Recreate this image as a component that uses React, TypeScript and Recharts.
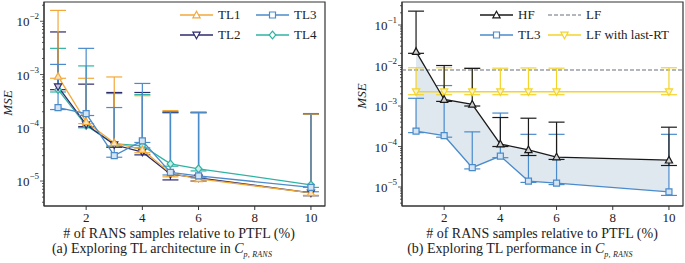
import React from 'react'
import { ComposedChart, Line, Area, XAxis, YAxis, ErrorBar, ReferenceLine, ReferenceArea } from 'recharts'

const SAMPLES = [1, 2, 3, 4, 5, 6, 10]
const X_TICKS = [2, 4, 6, 8, 10]

// (a) TL architectures
const TL1 = [9.2e-4, 1.3e-4, 5.2e-5, 3.9e-5, 1.4e-5, 1.1e-5, 6.0e-6]
const TL1_HI = [1.6e-2, 8.5e-4, 9.0e-4, 4.0e-4, 2.1e-4, 1.9e-4, 1.8e-4]
const TL1_LO = [8.5e-4, 1.2e-4, 4.6e-5, 3.4e-5, 1.2e-5, 1.0e-5, 5.4e-6]
const TL2 = [5.9e-4, 1.15e-4, 4.8e-5, 3.5e-5, 1.35e-5, 1.15e-5, 6.0e-6]
const TL2_HI = [6.3e-3, 6.6e-4, 4.6e-4, 4.6e-4, 1.95e-4, 1.95e-4, 1.8e-4]
const TL2_LO = [5.2e-4, 1.05e-4, 4.3e-5, 3.1e-5, 1.05e-5, 1.0e-5, 5.3e-6]
const TL3 = [2.4e-4, 1.85e-4, 3.0e-5, 5.7e-5, 1.45e-5, 1.25e-5, 7.6e-6]
const TL3_HI = [1.55e-3, 3.1e-3, 2.4e-4, 6.8e-4, 2.0e-4, 1.95e-4, 1.85e-4]
const TL3_LO = [2.2e-4, 1.7e-4, 2.8e-5, 5.3e-5, 1.3e-5, 1.15e-5, 6.3e-6]
const TL4 = [5.2e-4, 1.1e-4, 5.0e-5, 4.6e-5, 2.1e-5, 1.7e-5, 8.5e-6]
const TL4_HI = [3.1e-3, 1.45e-3, 4.4e-4, 4.2e-4, 1.9e-4, 1.9e-4, 1.8e-4]
const TL4_LO = [4.7e-4, 1.0e-4, 4.5e-5, 4.2e-5, 1.9e-5, 1.55e-5, 7.6e-6]

// (b) TL performance
const HF = [2.2e-2, 1.45e-3, 1.1e-3, 1.15e-4, 8.3e-5, 5.5e-5, 4.6e-5]
const HF_HI = [2.2e-1, 1.0e-2, 8.5e-3, 5.2e-4, 5.0e-4, 4.0e-4, 3.0e-4]
const HF_LO = [2.0e-2, 1.3e-3, 1.0e-3, 1.0e-4, 6.0e-5, 4.8e-5, 3.4e-5]
const TL3B = [2.4e-4, 1.85e-4, 3.0e-5, 5.8e-5, 1.4e-5, 1.25e-5, 7.6e-6]
const TL3B_HI = [1.55e-3, 3.2e-3, 2.3e-4, 6.7e-4, 2.0e-4, 2.0e-4, 2.0e-4]
const TL3B_LO = [2.2e-4, 1.7e-4, 2.8e-5, 5.3e-5, 1.3e-5, 1.15e-5, 6.2e-6]
const LF = 7.8e-3
const LFRT = [2.25e-3, 2.25e-3, 2.25e-3, 2.25e-3, 2.25e-3, 2.25e-3, 2.25e-3]
const LFRT_HI = [8.8e-3, 8.8e-3, 8.7e-3, 8.6e-3, 8.7e-3, 8.6e-3, 8.8e-3]
const LFRT_LO = [1.9e-3, 1.9e-3, 1.9e-3, 1.9e-3, 1.9e-3, 1.9e-3, 1.9e-3]

const LEFT_DECADES = [-6, -5, -4, -3, -2]
const RIGHT_DECADES = [-6, -5, -4, -3, -2, -1]

const C = {
  tl1: '#f2a93b', tl2: '#2d2b6b', tl3: '#4a8bcb', tl4: '#2fb3a3',
  hf: '#1a1a1a', lf: '#9aa0a8', lfrt: '#f3d42a', fill: '#dfe8ef', axis: '#333',
}
const LIGHT: Record<string, string> = {
  tl1: '#fbe3bd', tl2: '#c8c7dd', tl3: '#d4e4f3', tl4: '#cbece7', hf: '#d0d0d0', lfrt: '#fcf2c0',
}
const FONT = '"Liberation Serif", "Times New Roman", serif'

const err = (v: number[], lo: number[], hi: number[], i: number) => [v[i] - lo[i], hi[i] - v[i]]

const leftRows = SAMPLES.map((x, i) => ({
  x,
  tl1: TL1[i], tl1Err: err(TL1, TL1_LO, TL1_HI, i),
  tl2: TL2[i], tl2Err: err(TL2, TL2_LO, TL2_HI, i),
  tl3: TL3[i], tl3Err: err(TL3, TL3_LO, TL3_HI, i),
  tl4: TL4[i], tl4Err: err(TL4, TL4_LO, TL4_HI, i),
}))

const rightRows = SAMPLES.map((x, i) => ({
  x,
  hf: HF[i], hfErr: err(HF, HF_LO, HF_HI, i),
  tl3: TL3B[i], tl3Err: err(TL3B, TL3B_LO, TL3B_HI, i),
  band: [TL3B[i], HF[i]],
  lfrt: LFRT[i], lfrtErr: err(LFRT, LFRT_LO, LFRT_HI, i),
}))

function logTicks(decades: number[], lo: number, hi: number) {
  const out: number[] = []
  decades.forEach((d) => {
    for (let m = 1; m < 10; m++) {
      const v = m * Math.pow(10, d)
      if (v >= lo && v <= hi) out.push(v)
    }
  })
  return out
}

function LogTick(props: any) {
  const { x, y, payload } = props
  const lg = Math.log10(payload.value)
  const e = Math.round(lg)
  const major = Math.abs(lg - e) < 1e-6
  return (
    <g>
      <line x1={x} x2={x - (major ? 4 : 2)} y1={y} y2={y} stroke={C.axis} strokeWidth={0.8} />
      {major && (
        <text x={x - 5} y={y + 5} textAnchor="end" fontSize={13} fontFamily={FONT} fill="#222">
          <tspan>10</tspan>
          <tspan dy={-7} fontSize={9}>{'\u2212' + -e}</tspan>
        </text>
      )}
    </g>
  )
}

type Shape = 'up' | 'down' | 'square' | 'diamond'

function Marker({ cx, cy, shape, stroke, fill }: { cx: number; cy: number; shape: Shape; stroke: string; fill: string }) {
  const s = 3.3
  let d = ''
  if (shape === 'up') d = `M${cx},${cy - s - 0.5}L${cx + s + 0.3},${cy + s - 0.5}L${cx - s - 0.3},${cy + s - 0.5}Z`
  if (shape === 'down') d = `M${cx},${cy + s + 0.5}L${cx + s + 0.3},${cy - s + 0.5}L${cx - s - 0.3},${cy - s + 0.5}Z`
  if (shape === 'square') d = `M${cx - s + 0.3},${cy - s + 0.3}h${2 * s - 0.6}v${2 * s - 0.6}h${-2 * s + 0.6}Z`
  if (shape === 'diamond') d = `M${cx},${cy - s - 0.5}L${cx + s},${cy}L${cx},${cy + s + 0.5}L${cx - s},${cy}Z`
  return <path d={d} stroke={stroke} fill={fill} strokeWidth={1.2} />
}

const dot = (key: string, shape: Shape) => (p: any) =>
  <Marker key={`${key}-${p.index}`} cx={p.cx} cy={p.cy} shape={shape} stroke={(C as any)[key]} fill={LIGHT[key]} />

function LegendItem({ left, top, label, color, shape, dashed, fill }: any) {
  return (
    <div style={{ position: 'absolute', left, top: top - 8, height: 16, display: 'flex', alignItems: 'center', fontFamily: FONT, fontSize: 13, color: '#222', whiteSpace: 'nowrap' }}>
      <svg width={33} height={12} style={{ marginRight: 5 }}>
        <line x1={0} x2={33} y1={6} y2={6} stroke={color} strokeWidth={dashed ? 1.5 : 1.4} strokeDasharray={dashed ? '4 2' : undefined} />
        {shape && <Marker cx={16.5} cy={6} shape={shape} stroke={color} fill={fill ?? '#fff'} />}
      </svg>
      {label}
    </div>
  )
}

function Caption({ x, y, children }: any) {
  return (
    <div style={{ position: 'absolute', left: x, top: y - 7, transform: 'translateX(-50%)', fontFamily: FONT, fontSize: 14, lineHeight: '16px', color: '#222', whiteSpace: 'nowrap' }}>
      {children}
    </div>
  )
}

const Cp = () => (
  <span><i>C</i><sub style={{ fontSize: 8, fontStyle: 'italic', letterSpacing: 0.2, lineHeight: 0 }}>p, RANS</sub></span>
)

const MseLabel = ({ x, y }: { x: number; y: number }) => (
  <div style={{ position: 'absolute', left: x, top: y, transform: 'translate(-50%, -50%) rotate(-90deg)', fontFamily: FONT, fontSize: 13, fontStyle: 'italic', color: '#222' }}>
    MSE
  </div>
)

const L_DOMAIN: [number, number] = [3.4e-6, 2.3e-2]
const R_DOMAIN: [number, number] = [3.4e-6, 0.37]
const X_DOMAIN: [number, number] = [0.5, 10.5]

const xAxisProps = {
  dataKey: 'x', type: 'number' as const, domain: X_DOMAIN, ticks: X_TICKS, interval: 0 as const,
  tickSize: 4, tickMargin: 3, height: 20, allowDataOverflow: true,
  stroke: C.axis, tick: { fontSize: 13, fontFamily: FONT, fill: '#222' },
}

export default function App() {
  return (
    <div style={{ position: 'absolute', left: 0, top: 0, width: 685, height: 263, background: '#fff' }}>
      <div style={{ position: 'absolute', left: 0, top: 0 }}>
        <ComposedChart width={340} height={263} data={leftRows} margin={{ top: 2, right: 15, left: 0, bottom: 37 }}>
          <XAxis {...xAxisProps} />
          <YAxis scale="log" type="number" domain={L_DOMAIN} allowDataOverflow width={44}
            ticks={logTicks(LEFT_DECADES, L_DOMAIN[0], L_DOMAIN[1])} interval={0}
            tickSize={0} tickMargin={0} tickLine={false} tick={<LogTick />} stroke={C.axis} />
          <ReferenceArea x1={X_DOMAIN[0]} x2={X_DOMAIN[1]} y1={L_DOMAIN[0]} y2={L_DOMAIN[1]} fill="none" stroke={C.axis} strokeWidth={1.2} fillOpacity={0} />
          <Line dataKey="tl4" stroke={C.tl4} strokeWidth={1.3} isAnimationActive={false} dot={dot('tl4', 'diamond')}>
            <ErrorBar dataKey="tl4Err" direction="y" width={8} stroke={C.tl4} strokeWidth={1.2} />
          </Line>
          <Line dataKey="tl2" stroke={C.tl2} strokeWidth={1.3} isAnimationActive={false} dot={dot('tl2', 'down')}>
            <ErrorBar dataKey="tl2Err" direction="y" width={8} stroke={C.tl2} strokeWidth={1.2} />
          </Line>
          <Line dataKey="tl1" stroke={C.tl1} strokeWidth={1.3} isAnimationActive={false} dot={dot('tl1', 'up')}>
            <ErrorBar dataKey="tl1Err" direction="y" width={8} stroke={C.tl1} strokeWidth={1.2} />
          </Line>
          <Line dataKey="tl3" stroke={C.tl3} strokeWidth={1.3} isAnimationActive={false} dot={dot('tl3', 'square')}>
            <ErrorBar dataKey="tl3Err" direction="y" width={8} stroke={C.tl3} strokeWidth={1.2} />
          </Line>
        </ComposedChart>
      </div>

      <div style={{ position: 'absolute', left: 340, top: 0 }}>
        <ComposedChart width={345} height={263} data={rightRows} margin={{ top: 2, right: 2, left: 0, bottom: 37 }}>
          <XAxis {...xAxisProps} />
          <YAxis scale="log" type="number" domain={R_DOMAIN} allowDataOverflow width={62}
            ticks={logTicks(RIGHT_DECADES, R_DOMAIN[0], R_DOMAIN[1])} interval={0}
            tickSize={0} tickMargin={0} tickLine={false} tick={<LogTick />} stroke={C.axis} />
          <Area dataKey="band" stroke="none" fill={C.fill} fillOpacity={1} isAnimationActive={false} />
          <ReferenceLine y={LF} stroke={C.lf} strokeWidth={1.5} strokeDasharray="4 2" />
          <Line dataKey="lfrt" stroke={C.lfrt} strokeWidth={1.3} isAnimationActive={false} dot={dot('lfrt', 'down')}>
            <ErrorBar dataKey="lfrtErr" direction="y" width={8} stroke={C.lfrt} strokeWidth={1.2} />
          </Line>
          <Line dataKey="tl3" stroke={C.tl3} strokeWidth={1.3} isAnimationActive={false} dot={dot('tl3', 'square')}>
            <ErrorBar dataKey="tl3Err" direction="y" width={8} stroke={C.tl3} strokeWidth={1.2} />
          </Line>
          <Line dataKey="hf" stroke={C.hf} strokeWidth={1.3} isAnimationActive={false} dot={dot('hf', 'up')}>
            <ErrorBar dataKey="hfErr" direction="y" width={8} stroke={C.hf} strokeWidth={1.2} />
          </Line>
          <ReferenceArea x1={X_DOMAIN[0]} x2={X_DOMAIN[1]} y1={R_DOMAIN[0]} y2={R_DOMAIN[1]} fill="none" stroke={C.axis} strokeWidth={1.2} fillOpacity={0} />
        </ComposedChart>
      </div>

      <MseLabel x={8} y={103} />
      <MseLabel x={362} y={96} />

      <LegendItem left={180} top={15} label="TL1" color={C.tl1} shape="up" />
      <LegendItem left={180} top={35} label="TL2" color={C.tl2} shape="down" />
      <LegendItem left={256} top={15} label="TL3" color={C.tl3} shape="square" />
      <LegendItem left={256} top={35} label="TL4" color={C.tl4} shape="diamond" />

      <LegendItem left={480} top={15} label="HF" color={C.hf} shape="up" />
      <LegendItem left={480} top={35} label="TL3" color={C.tl3} shape="square" />
      <LegendItem left={548} top={15} label="LF" color={C.lf} dashed />
      <LegendItem left={548} top={35} label="LF with last-RT" color={C.lfrt} shape="down" />

      <Caption x={179} y={233}># of RANS samples relative to PTFL (%)</Caption>
      <Caption x={542} y={233}># of RANS samples relative to PTFL (%)</Caption>
      <Caption x={162} y={248}>(a) Exploring TL architecture in <Cp /></Caption>
      <Caption x={520} y={248}>(b) Exploring TL performance in <Cp /></Caption>
    </div>
  )
}
